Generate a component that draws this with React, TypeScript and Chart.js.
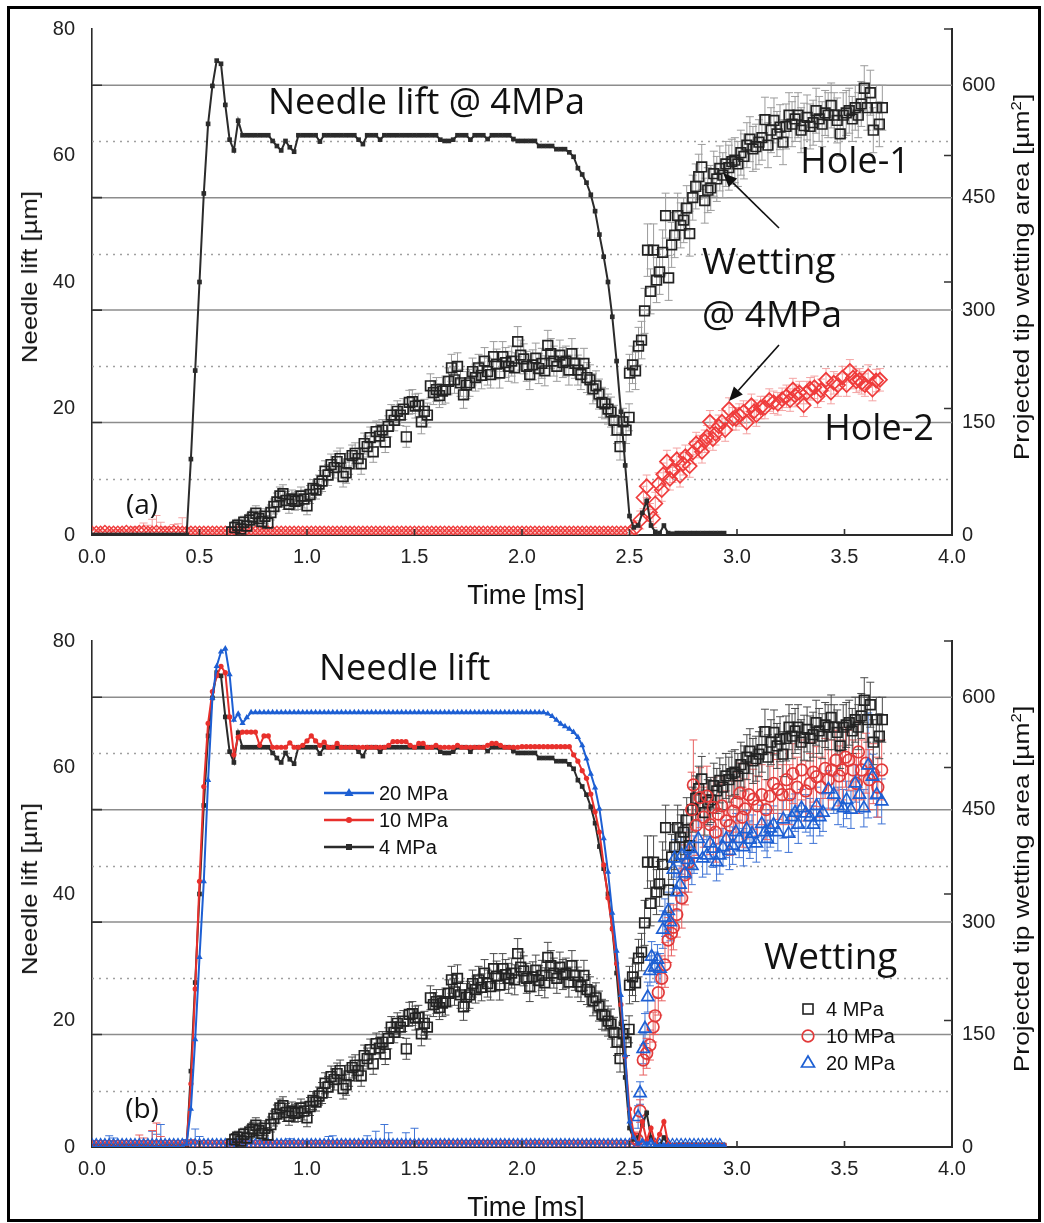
import React, { useEffect, useRef } from 'react';
import { Chart, registerables } from 'chart.js';

Chart.register(...registerables);

// ---------------- DATA ----------------
// Needle lift [µm], sampled every 0.02 ms starting at 0.00 ms (rows of 10 samples = 0.2 ms)
const NEEDLE_DT = 0.02;
const NEEDLE_4MPA = [
  0, 0, 0, 0, 0, 0, 0, 0, 0, 0,
  0, 0, 0, 0, 0, 0, 0, 0, 0, 0,
  0, 0, 0, 12, 26, 40, 54, 65, 71, 75,
  74.5, 68, 62.5, 60.8, 65.5, 63.2, 63.2, 63.2, 63.2, 63.2,
  63.2, 63.2, 62.3, 61.5, 60.8, 62.3, 61.3, 60.6, 63.2, 63.2,
  63.2, 63.2, 63.2, 62.2, 63.2, 63.2, 63.2, 63.2, 63.2, 63.2,
  63.2, 63.2, 62.5, 61.8, 63.2, 63.2, 63.2, 62.5, 63.2, 63.2,
  63.2, 63.2, 63.2, 63.2, 63.2, 63.2, 63.2, 63.2, 63.2, 63.2,
  63.2, 62.5, 62.3, 62.3, 62.5, 63.2, 63.2, 63.2, 62.5, 63.2,
  63.2, 63.2, 62.6, 63.2, 63.2, 63.2, 63.2, 63.2, 62.6, 62.3,
  62.3, 62.3, 62.3, 62.3, 61.5, 61.5, 61.5, 61.5, 61, 61,
  61, 60.5, 59.8, 58, 57, 55.7, 53.8, 51.2, 47.5, 44,
  40, 34.5, 27.5, 19.5, 11, 3, 1.2, 1.5, 3.5, 5.4,
  1.5, 0.5, 0.3, 1.5, 0.3, 0.2, 0.3, 0.3, 0.3, 0.3,
  0.3, 0.3, 0.3, 0.3, 0.3, 0.3, 0.3, 0.3,
];
const NEEDLE_10MPA = [
  0, 0, 0, 0, 0, 0, 0, 0, 0, 0,
  0, 0, 0, 0, 0, 0, 0, 0, 0, 0,
  0, 0, 0.5, 10, 25, 42, 57, 67, 72, 74.5,
  76, 75, 68, 62, 64.8, 65.6, 65.6, 65.6, 65.6, 63.5,
  65, 65, 63.2, 63.2, 63.2, 63.2, 63.9, 63.2, 63.2, 63.5,
  64.2, 65, 64.2, 63.5, 64, 63.2, 63.2, 63.8, 63.2, 63.2,
  63.2, 63.2, 63.2, 63.2, 63.2, 63.2, 63.2, 63.2, 63.2, 63.5,
  64.1, 64.1, 64.1, 64.1, 63.5, 63.2, 63.8, 63.8, 63.2, 63.2,
  63.5, 63.2, 63.2, 63.2, 63.2, 63.5, 63.2, 63.2, 63.2, 63.2,
  63.2, 63.2, 63.5, 63.8, 63.8, 63.5, 63.2, 63.2, 63.2, 63.2,
  63.3, 63.3, 63.3, 63.3, 63.3, 63.3, 63.3, 63.3, 63.3, 63.3,
  63.3, 63.3, 62, 61, 59.5, 58.3, 55.8, 53, 49.8, 44.6,
  39.4, 34.5, 29, 22.5, 14.3, 6, 2, 0.5, 4, 1,
  3, 0.5, 2, 4, 0.5, 0.3, 0.3, 0.3, 0.3, 0.3,
  0.3, 0.3, 0.3, 0.3, 0.3, 0.3, 0.3, 0.3,
];
const NEEDLE_20MPA = [
  0, 0, 0, 0, 0, 0, 0, 0, 0, 0,
  0, 0, 0, 0, 0, 0, 0, 0, 0, 0,
  0, 0, 0.5, 6, 17, 30, 42, 58, 71, 76,
  78.3, 78.8, 74.7, 67.5, 68.5, 67, 67.9, 68.7, 68.7, 68.7,
  68.7, 68.7, 68.7, 68.7, 68.7, 68.7, 68.7, 68.7, 68.7, 68.7,
  68.7, 68.7, 68.7, 68.7, 68.7, 68.7, 68.7, 68.7, 68.7, 68.7,
  68.7, 68.7, 68.7, 68.7, 68.7, 68.7, 68.7, 68.7, 68.7, 68.7,
  68.7, 68.7, 68.7, 68.7, 68.7, 68.7, 68.7, 68.7, 68.7, 68.7,
  68.7, 68.7, 68.7, 68.7, 68.7, 68.7, 68.7, 68.7, 68.7, 68.7,
  68.7, 68.7, 68.7, 68.7, 68.7, 68.7, 68.7, 68.7, 68.7, 68.7,
  68.7, 68.7, 68.7, 68.7, 68.7, 68.7, 68.5, 68.1, 67.5, 66.9,
  66.5, 66.1, 65.6, 64.8, 63.5, 61.4, 59, 56.8, 53.5, 48.8,
  43.5, 37, 31, 24, 14.5, 4, 1.5, 0.5, 1, 0.5,
  1, 0.3, 0.3, 0.3, 0.3, 0.3, 0.3, 0.3, 0.3, 0.3,
  0.3, 0.3, 0.3, 0.3, 0.3, 0.3, 0.3, 0.3,
];

// Wetting area [µm²]: [time ms, area, error]
const WET_4MPA_HOLE1: number[][] = [
  [0.650, 4, 6], [0.664, 10, 8], [0.678, 13, 8], [0.692, 8, 8], [0.706, 17, 8], [0.720, 12, 8],
  [0.734, 20, 9], [0.748, 24, 9], [0.762, 29, 10], [0.776, 22, 10], [0.790, 18, 10], [0.804, 25, 10],
  [0.818, 16, 10], [0.832, 30, 10], [0.846, 38, 10], [0.860, 44, 12], [0.874, 52, 12], [0.888, 55, 12],
  [0.902, 46, 12], [0.916, 41, 12], [0.930, 48, 12], [0.944, 45, 12], [0.958, 46, 12], [0.972, 52, 12],
  [0.986, 48, 12], [1.000, 39, 12], [1.014, 54, 12], [1.028, 62, 12], [1.042, 60, 12], [1.056, 68, 12],
  [1.070, 72, 14], [1.084, 85, 14], [1.098, 80, 14], [1.112, 94, 14], [1.126, 90, 14], [1.140, 98, 14],
  [1.154, 102, 14], [1.168, 78, 14], [1.182, 83, 14], [1.196, 95, 14], [1.210, 106, 14], [1.224, 109, 14],
  [1.238, 102, 14], [1.252, 95, 14], [1.266, 122, 14], [1.280, 118, 14], [1.294, 130, 14], [1.308, 111, 14],
  [1.322, 138, 14], [1.336, 132, 14], [1.350, 140, 14], [1.364, 124, 14], [1.378, 145, 14], [1.392, 160, 14],
  [1.406, 153, 14], [1.420, 165, 14], [1.434, 160, 14], [1.448, 168, 14], [1.462, 131, 14], [1.476, 177, 16],
  [1.490, 178, 16], [1.504, 172, 16], [1.518, 173, 16], [1.532, 151, 16], [1.546, 165, 16], [1.560, 160, 16],
  [1.574, 199, 16], [1.588, 190, 16], [1.602, 194, 16], [1.616, 186, 16], [1.630, 192, 18], [1.644, 194, 18],
  [1.658, 205, 18], [1.672, 223, 18], [1.686, 207, 18], [1.700, 225, 18], [1.714, 203, 18], [1.728, 187, 18],
  [1.742, 200, 18], [1.756, 203, 18], [1.770, 218, 18], [1.784, 210, 18], [1.798, 223, 18], [1.812, 213, 18],
  [1.826, 232, 18], [1.840, 218, 18], [1.854, 214, 18], [1.868, 238, 20], [1.882, 228, 20], [1.896, 216, 20],
  [1.910, 238, 20], [1.924, 230, 20], [1.938, 225, 20], [1.952, 232, 20], [1.966, 223, 20], [1.980, 258, 20],
  [1.994, 240, 20], [2.008, 235, 20], [2.022, 225, 20], [2.036, 214, 20], [2.050, 227, 20], [2.064, 236, 20],
  [2.078, 222, 20], [2.092, 229, 20], [2.106, 219, 20], [2.120, 253, 20], [2.134, 242, 20], [2.148, 232, 20],
  [2.162, 225, 20], [2.176, 240, 20], [2.190, 230, 20], [2.204, 232, 20], [2.218, 220, 20], [2.232, 242, 20],
  [2.246, 229, 20], [2.260, 220, 20], [2.274, 214, 20], [2.288, 229, 20], [2.302, 210, 20], [2.316, 207, 20],
  [2.330, 195, 20], [2.344, 199, 20], [2.358, 188, 20], [2.372, 177, 20], [2.386, 175, 20], [2.400, 168, 20],
  [2.414, 164, 20], [2.428, 153, 20], [2.442, 140, 18], [2.456, 118, 18], [2.470, 151, 18], [2.484, 140, 18],
  [2.498, 157, 18],
  [2.500, 216, 25], [2.514, 227, 25], [2.528, 219, 25], [2.542, 252, 25], [2.556, 260, 25], [2.570, 299, 30],
  [2.584, 380, 35], [2.598, 325, 30], [2.612, 380, 35], [2.626, 340, 30], [2.640, 351, 30], [2.654, 377, 30],
  [2.668, 426, 30], [2.682, 343, 30], [2.696, 387, 30], [2.710, 400, 30], [2.724, 426, 30], [2.738, 413, 30],
  [2.752, 420, 30], [2.766, 436, 30], [2.780, 402, 30], [2.794, 450, 30], [2.808, 465, 30], [2.822, 478, 30],
  [2.836, 491, 30], [2.850, 446, 30], [2.864, 460, 30], [2.878, 463, 30], [2.892, 482, 30], [2.906, 475, 30],
  [2.920, 489, 30], [2.934, 480, 30], [2.948, 495, 30], [2.962, 490, 30], [2.976, 498, 30], [2.990, 500, 30],
  [3.004, 495, 30], [3.018, 510, 30], [3.032, 505, 30], [3.046, 520, 30], [3.060, 528, 30], [3.074, 515, 30],
  [3.088, 518, 30], [3.102, 524, 30], [3.116, 530, 30], [3.130, 554, 30], [3.144, 520, 30], [3.158, 540, 30],
  [3.172, 553, 30], [3.186, 535, 30], [3.200, 544, 30], [3.214, 524, 30], [3.228, 545, 30], [3.242, 560, 30],
  [3.256, 548, 30], [3.270, 555, 30], [3.284, 560, 30], [3.298, 540, 30], [3.312, 546, 30], [3.326, 557, 30],
  [3.340, 545, 30], [3.354, 550, 30], [3.368, 566, 30], [3.382, 555, 30], [3.396, 548, 30], [3.410, 563, 30],
  [3.424, 560, 30], [3.438, 573, 30], [3.452, 560, 30], [3.466, 553, 30], [3.480, 535, 30], [3.494, 560, 30],
  [3.508, 563, 30], [3.522, 566, 30], [3.536, 555, 30], [3.550, 570, 30], [3.564, 560, 30], [3.578, 575, 30],
  [3.592, 596, 30], [3.606, 570, 30], [3.620, 590, 30], [3.634, 540, 30], [3.648, 570, 30], [3.662, 548, 30],
  [3.676, 570, 30],
];

const WET_4MPA_HOLE2: number[][] = [
  [2.525, 9, 10], [2.55, 20, 12], [2.565, 50, 15], [2.58, 65, 15], [2.595, 30, 12], [2.61, 22, 12],
  [2.62, 42, 15], [2.635, 68, 15], [2.65, 60, 15], [2.657, 81, 15], [2.674, 98, 15], [2.688, 75, 15],
  [2.70, 85, 15], [2.72, 101, 15], [2.735, 79, 15], [2.75, 95, 15], [2.76, 105, 15], [2.78, 92, 15],
  [2.795, 110, 15], [2.81, 122, 15], [2.825, 118, 15], [2.837, 111, 15], [2.85, 125, 15], [2.86, 131, 15],
  [2.874, 151, 15], [2.888, 128, 15], [2.90, 135, 15], [2.915, 145, 15], [2.93, 151, 15], [2.945, 140, 15],
  [2.963, 168, 15], [2.98, 155, 15], [2.995, 155, 15], [3.01, 160, 15], [3.03, 164, 15], [3.045, 150, 15],
  [3.067, 173, 15], [3.08, 165, 15], [3.09, 160, 15], [3.11, 170, 15], [3.13, 170, 15], [3.15, 180, 15],
  [3.17, 177, 15], [3.19, 175, 15], [3.21, 181, 15], [3.23, 185, 15], [3.247, 180, 15], [3.26, 194, 15],
  [3.27, 186, 15], [3.29, 190, 15], [3.31, 173, 15], [3.325, 190, 15], [3.34, 195, 15], [3.36, 197, 15],
  [3.375, 185, 15], [3.39, 193, 15], [3.414, 207, 15], [3.437, 190, 15], [3.45, 203, 15], [3.47, 200, 15],
  [3.49, 210, 15], [3.51, 200, 15], [3.525, 219, 15], [3.54, 210, 15], [3.555, 205, 15], [3.57, 207, 15],
  [3.58, 203, 15], [3.595, 200, 15], [3.61, 212, 15], [3.63, 194, 15], [3.647, 206, 15], [3.665, 207, 15],
];

const WET_10MPA: number[][] = [
  [2.535, 10, 10], [2.549, 48, 15], [2.564, 116, 20], [2.58, 125, 20], [2.595, 136, 20], [2.61, 160, 20],
  [2.619, 175, 25], [2.634, 206, 30], [2.65, 225, 30], [2.665, 243, 30], [2.68, 276, 30], [2.695, 285, 30],
  [2.704, 293, 30], [2.72, 310, 30], [2.743, 332, 40], [2.758, 363, 40], [2.774, 380, 40], [2.789, 450, 50],
  [2.797, 483, 60], [2.81, 429, 40], [2.828, 466, 40], [2.845, 440, 40], [2.86, 468, 40], [2.875, 430, 40],
  [2.89, 453, 40], [2.90, 420, 40], [2.913, 444, 40], [2.93, 455, 40], [2.95, 435, 40], [2.967, 429, 40],
  [2.983, 448, 40], [3.0, 460, 40], [3.014, 472, 40], [3.025, 440, 40], [3.037, 451, 40], [3.055, 470, 40],
  [3.076, 464, 40], [3.095, 455, 40], [3.115, 470, 40], [3.135, 450, 40], [3.153, 468, 40], [3.17, 485, 40],
  [3.19, 477, 40], [3.21, 470, 40], [3.23, 490, 40], [3.245, 470, 40], [3.26, 498, 40], [3.28, 480, 40],
  [3.30, 503, 40], [3.32, 475, 40], [3.34, 485, 40], [3.355, 500, 40], [3.37, 494, 40], [3.39, 480, 40],
  [3.41, 505, 40], [3.425, 490, 40], [3.44, 503, 40], [3.46, 516, 40], [3.475, 495, 40], [3.49, 503, 40],
  [3.505, 520, 40], [3.52, 516, 40], [3.54, 503, 40], [3.555, 485, 40], [3.565, 527, 40], [3.58, 503, 40],
  [3.60, 512, 40], [3.615, 490, 40], [3.634, 498, 40], [3.655, 480, 40], [3.673, 503, 40],
];

const WET_20MPA: number[][] = [
  [2.54, 40, 15], [2.549, 72, 15], [2.564, 131, 20], [2.572, 158, 20], [2.585, 200, 20], [2.595, 235, 20],
  [2.603, 254, 20], [2.618, 240, 20], [2.63, 250, 20], [2.642, 238, 20], [2.655, 290, 25], [2.665, 306, 25],
  [2.68, 315, 25], [2.69, 300, 25], [2.704, 370, 25], [2.71, 385, 25], [2.72, 340, 25], [2.735, 350, 25],
  [2.743, 389, 25], [2.757, 365, 25], [2.77, 383, 25], [2.78, 398, 25], [2.79, 375, 25], [2.80, 390, 25],
  [2.82, 411, 25], [2.84, 385, 25], [2.86, 389, 25], [2.875, 405, 25], [2.89, 398, 25], [2.905, 380, 25],
  [2.92, 389, 25], [2.935, 400, 25], [2.95, 411, 25], [2.965, 395, 25], [2.98, 402, 25], [2.995, 420, 25],
  [3.01, 411, 25], [3.03, 400, 25], [3.045, 424, 25], [3.06, 410, 25], [3.07, 418, 25], [3.09, 405, 25],
  [3.115, 431, 25], [3.13, 420, 25], [3.14, 411, 25], [3.155, 425, 25], [3.17, 430, 25], [3.19, 420, 25],
  [3.215, 437, 25], [3.24, 418, 25], [3.255, 440, 25], [3.27, 446, 25], [3.285, 430, 25], [3.30, 452, 25],
  [3.32, 445, 25], [3.34, 440, 25], [3.355, 430, 25], [3.37, 455, 25], [3.385, 440, 25], [3.40, 446, 25],
  [3.425, 477, 25], [3.45, 470, 25], [3.47, 455, 25], [3.495, 452, 25], [3.51, 463, 25], [3.53, 450, 25],
  [3.55, 485, 25], [3.57, 470, 25], [3.59, 452, 25], [3.61, 509, 70], [3.63, 494, 30], [3.65, 470, 30],
  [3.673, 461, 30],
];

// Near-zero wetting before the area appears, sampled every 0.02 ms from 0 ms
const BASE_DT = 0.02;
const HOLE2_BASE_W = [
  3, 3, 3, 4, 3, 3, 3, 3, 4, 3,
  3, 4, 4, 3, 3, 4, 3, 3, 3, 4,
  3, 3, 3, 3, 3, 3, 3, 3, 3, 3,
  3, 3, 3, 3, 3, 3, 3, 3, 3, 3,
  3, 3, 3, 3, 3, 3, 3, 3, 3, 3,
  3, 3, 3, 3, 3, 3, 3, 3, 3, 3,
  3, 3, 3, 3, 3, 3, 3, 3, 3, 3,
  3, 3, 3, 3, 3, 3, 3, 3, 3, 3,
  3, 3, 3, 3, 3, 3, 3, 3, 3, 3,
  3, 3, 3, 3, 3, 3, 3, 3, 3, 3,
  3, 3, 3, 3, 3, 3, 3, 3, 3, 3,
  3, 3, 3, 3, 3, 3, 3, 3, 3, 3,
  3, 3, 3, 3, 3, 3,
];
const HOLE2_BASE_E = [
  3, 3, 4, 3, 3, 3, 4, 3, 3, 3,
  8, 6, 12, 10, 18, 22, 14, 8, 6, 10,
  12, 20, 6, 3, 3, 3, 3, 3, 3, 3,
  3, 3, 3, 3, 3, 3, 3, 3, 3, 3,
  3, 3, 3, 3, 3, 3, 3, 3, 3, 3,
  3, 3, 3, 3, 3, 3, 3, 3, 3, 3,
  3, 3, 3, 3, 3, 3, 3, 3, 3, 3,
  3, 3, 3, 3, 3, 3, 3, 3, 3, 3,
  3, 3, 3, 3, 3, 3, 3, 3, 3, 3,
  3, 3, 3, 3, 3, 3, 3, 3, 3, 3,
  3, 3, 3, 3, 3, 3, 3, 3, 3, 3,
  3, 3, 3, 3, 3, 3, 3, 3, 3, 3,
  3, 3, 3, 3, 3, 3,
];
const W10_BASE_W = [
  2, 2, 2, 2, 2, 2, 2, 2, 2, 2,
  2, 2, 2, 2, 2, 2, 2, 2, 2, 2,
  2, 2, 2, 2, 2, 2, 2, 2, 2, 2,
  2, 2, 2, 2, 2, 2, 2, 2, 2, 2,
  2, 2, 2, 2, 2, 2, 2, 2, 2, 2,
  2, 2, 2, 2, 2, 2, 2, 2, 2, 2,
  2, 2, 2, 2, 2, 2, 2, 2, 2, 2,
  2, 2, 2, 2, 2, 2, 2, 2, 2, 2,
  2, 2, 2, 2, 2, 2, 2, 2, 2, 2,
  2, 2, 2, 2, 2, 2, 2, 2, 2, 2,
  2, 2, 2, 2, 2, 2, 2, 2, 2, 2,
  2, 2, 2, 2, 2, 2, 2, 2, 2, 2,
  2, 2, 2, 2, 2, 2, 2,
];
const W10_BASE_E = [
  2, 2, 3, 2, 2, 2, 3, 2, 2, 2,
  2, 14, 10, 2, 20, 30, 12, 2, 2, 3,
  2, 2, 3, 8, 2, 2, 2, 2, 2, 2,
  2, 2, 2, 2, 2, 2, 2, 2, 2, 2,
  2, 2, 2, 2, 2, 2, 2, 2, 2, 2,
  2, 2, 2, 2, 2, 2, 2, 2, 2, 2,
  2, 2, 2, 2, 2, 2, 2, 2, 2, 2,
  2, 2, 2, 2, 2, 2, 2, 2, 2, 2,
  2, 2, 2, 2, 2, 2, 2, 2, 2, 2,
  2, 2, 2, 2, 2, 2, 2, 2, 2, 2,
  2, 2, 2, 2, 2, 2, 2, 2, 2, 2,
  2, 2, 2, 2, 2, 2, 2, 2, 2, 2,
  2, 2, 2, 2, 2, 2, 2,
];
const W20_BASE_W = [
  2, 2, 2, 2, 2, 2, 2, 2, 2, 2,
  2, 2, 2, 2, 2, 2, 2, 2, 2, 2,
  2, 2, 2, 2, 2, 2, 2, 2, 2, 2,
  2, 2, 2, 2, 2, 2, 2, 2, 2, 2,
  2, 2, 2, 2, 2, 2, 2, 2, 2, 2,
  2, 2, 2, 2, 2, 2, 2, 2, 2, 2,
  2, 2, 2, 2, 2, 2, 2, 2, 2, 2,
  2, 2, 2, 2, 2, 2, 2, 2, 2, 2,
  2, 2, 2, 2, 2, 2, 2, 2, 2, 2,
  2, 2, 2, 2, 2, 2, 2, 2, 2, 2,
  2, 2, 2, 2, 2, 2, 2, 2, 2, 2,
  2, 2, 2, 2, 2, 2, 2, 2, 2, 2,
  2, 2, 2, 2, 2, 2, 2, 2, 2, 2,
  2, 2, 2, 2, 2, 2, 2, 2, 2, 2,
  2, 2, 2, 2, 2, 2, 2,
];
const W20_BASE_E = [
  2, 2, 3, 2, 13, 10, 3, 2, 2, 2,
  3, 2, 2, 3, 19, 15, 28, 4, 2, 3,
  3, 2, 8, 2, 22, 12, 3, 2, 2, 2,
  2, 2, 3, 2, 2, 2, 2, 3, 2, 2,
  2, 3, 2, 2, 2, 2, 9, 2, 2, 2,
  2, 2, 2, 3, 2, 12, 13, 2, 2, 2,
  2, 2, 3, 2, 13, 2, 19, 2, 28, 17,
  2, 2, 3, 17, 2, 23, 2, 2, 3, 2,
  2, 3, 2, 2, 2, 2, 3, 2, 2, 2,
  2, 2, 2, 3, 2, 2, 2, 2, 3, 2,
  2, 2, 3, 2, 2, 2, 2, 3, 2, 2,
  2, 2, 2, 2, 3, 2, 2, 2, 2, 3,
  2, 2, 2, 3, 2, 2, 2, 2, 2, 2,
  2, 2, 3, 2, 2, 2, 2, 2, 3, 2,
  2, 2, 2, 2, 2, 2, 2,
];

// Axis ticks
const X_MIN = 0, X_MAX = 4, X_STEP = 0.5;
const LEFT_MAX = 80, LEFT_STEP = 20;
const RIGHT_MAX = 675;
const RIGHT_TICKS = [0, 150, 300, 450, 600];
const RIGHT_MINOR = [75, 225, 375, 525];
const LEFT_TICK_MARKS = [20, 40, 60, 80];
const X_TICK_MARKS = [0.5, 1, 1.5, 2, 2.5, 3, 3.5];

// ---------------- STYLE ----------------
const TICK_FONT = "'Liberation Sans', Arial, sans-serif";
const NOTE_FONT = "'Open Sans', 'Noto Sans', sans-serif";
const C_BLACK = '#2b2b2b';
const C_RED = '#e8302c';
const C_BLUE = '#1d5fd3';

const seriesFromSamples = (vals: number[], dt: number) => vals.map((v, i) => ({ x: Math.round(i * dt * 1000) / 1000, y: v }));
const seriesFromTriples = (rows: number[][]) => rows.map((r) => ({ x: r[0], y: r[1] }));
const errsFromTriples = (rows: number[][]) => rows.map((r) => r[2]);

const gridPlugin = {
  id: 'customGrid',
  beforeDatasetsDraw(chart: any) {
    const { ctx, chartArea: a, scales } = chart;
    const yR = scales.yR;
    ctx.save();
    ctx.lineWidth = 1.3;
    ctx.strokeStyle = '#a0a0a0';
    ctx.setLineDash([2, 5]);
    RIGHT_MINOR.forEach((v) => {
      const y = Math.round(yR.getPixelForValue(v)) + 0.5;
      ctx.beginPath(); ctx.moveTo(a.left, y); ctx.lineTo(a.right, y); ctx.stroke();
    });
    ctx.setLineDash([]);
    ctx.strokeStyle = '#8c8c8c';
    ctx.lineWidth = 1.5;
    RIGHT_TICKS.slice(1).forEach((v) => {
      const y = yR.getPixelForValue(v);
      ctx.beginPath(); ctx.moveTo(a.left, y); ctx.lineTo(a.right, y); ctx.stroke();
    });
    ctx.restore();
  },
};

const errorBarPlugin = {
  id: 'errorBars',
  beforeDatasetsDraw(chart: any) {
    const { ctx, chartArea: a } = chart;
    const yR = chart.scales.yR;
    ctx.save();
    ctx.beginPath();
    ctx.rect(a.left, a.top - 10, a.right - a.left, a.bottom - a.top + 10);
    ctx.clip();
    chart.data.datasets.forEach((ds: any, di: number) => {
      if (!ds.errs) return;
      const meta = chart.getDatasetMeta(di);
      ctx.strokeStyle = ds.errColor;
      ctx.lineWidth = ds.errWidth || 1;
      const cap = ds.errCap || 4;
      ctx.beginPath();
      meta.data.forEach((pt: any, i: number) => {
        const d = ds.data[i];
        const e = ds.errs[i];
        if (!e) return;
        const x = pt.x;
        const y1 = yR.getPixelForValue(d.y + e);
        const y2 = yR.getPixelForValue(Math.max(0, d.y - e));
        ctx.moveTo(x, y1); ctx.lineTo(x, y2);
        ctx.moveTo(x - cap, y1); ctx.lineTo(x + cap, y1);
        ctx.moveTo(x - cap, y2); ctx.lineTo(x + cap, y2);
      });
      ctx.stroke();
    });
    ctx.restore();
  },
};

const tickMarkPlugin = {
  id: 'inwardTicks',
  afterDatasetsDraw(chart: any) {
    const { ctx, chartArea: a, scales } = chart;
    ctx.save();
    ctx.strokeStyle = '#333';
    ctx.lineWidth = 1.6;
    ctx.beginPath();
    RIGHT_TICKS.slice(1).forEach((v) => {
      const y = scales.yR.getPixelForValue(v);
      ctx.moveTo(a.left, y); ctx.lineTo(a.left + 10, y);
    });
    LEFT_TICK_MARKS.forEach((v) => {
      const y = scales.yL.getPixelForValue(v);
      ctx.moveTo(a.right, y); ctx.lineTo(a.right - 8, y);
    });
    X_TICK_MARKS.forEach((v) => {
      const x = scales.x.getPixelForValue(v);
      ctx.moveTo(x, a.bottom); ctx.lineTo(x, a.bottom - 6);
    });
    ctx.stroke();
    ctx.restore();
  },
};

function baseOptions(): any {
  const tickFont = { family: TICK_FONT, size: 20 };
  return {
    animation: false,
    responsive: false,
    maintainAspectRatio: false,
    layout: { padding: { top: 20, left: 0, right: 0, bottom: 0 } },
    plugins: { legend: { display: false }, tooltip: { enabled: false } },
    scales: {
      x: {
        type: 'linear', position: 'bottom', min: X_MIN, max: X_MAX,
        grid: { display: false, drawTicks: false },
        border: { display: true, color: '#2a2a2a', width: 2 },
        ticks: { stepSize: X_STEP, padding: 10, font: tickFont, color: '#222', maxRotation: 0, autoSkip: false,
          callback: (v: number) => Number(v).toFixed(1) },
        afterFit: (s: any) => { s.height = 76; },
      },
      yL: {
        type: 'linear', position: 'left', min: 0, max: LEFT_MAX,
        grid: { display: false, drawTicks: false },
        border: { display: true, color: '#2a2a2a', width: 1.6 },
        ticks: { stepSize: LEFT_STEP, padding: 17, font: tickFont, color: '#222' },
        afterFit: (s: any) => { s.width = 92; },
      },
      yR: {
        type: 'linear', position: 'right', min: 0, max: RIGHT_MAX,
        grid: { display: false, drawTicks: false },
        border: { display: true, color: '#2a2a2a', width: 2 },
        ticks: { padding: 10, font: tickFont, color: '#222' },
        afterBuildTicks: (s: any) => { s.ticks = RIGHT_TICKS.map((v) => ({ value: v })); },
        afterFit: (s: any) => { s.width = 92; },
      },
    },
  };
}

function needleDs(label: string, vals: number[], color: string, style: string, r: number) {
  return {
    label, data: seriesFromSamples(vals, NEEDLE_DT), yAxisID: 'yL', showLine: true,
    borderColor: color, borderWidth: 2, pointStyle: style, pointRadius: r, pointBackgroundColor: color,
    pointBorderColor: color, pointBorderWidth: 0, tension: 0, order: 0,
  };
}

function wetDs(label: string, rows: number[][], color: string, style: string, r: number, errColor: string, order: number) {
  return {
    label, data: seriesFromTriples(rows), yAxisID: 'yR', showLine: false,
    pointStyle: style, pointRadius: r, pointBorderColor: color, pointBackgroundColor: 'rgba(255,255,255,0)',
    pointBorderWidth: 1.7, errs: errsFromTriples(rows), errColor, errWidth: 1, errCap: 4, order,
  };
}

function baseDs(label: string, vals: number[], errs: number[], color: string, style: string, r: number, errColor: string, order: number) {
  return {
    label, data: seriesFromSamples(vals, BASE_DT), yAxisID: 'yR', showLine: false, clip: 0,
    pointStyle: style, pointRadius: r, pointBorderColor: color, pointBackgroundColor: 'rgba(255,255,255,0)',
    pointBorderWidth: 1.3, errs, errColor, errWidth: 1, errCap: 4, order,
  };
}

function datasetsA() {
  return [
    needleDs('Needle lift @ 4MPa', NEEDLE_4MPA, C_BLACK, 'rect', 3.3),
    wetDs('Hole-2', WET_4MPA_HOLE2, '#ef3b3b', 'rectRot', 7, '#f4a3a3', 1),
    wetDs('Hole-1', WET_4MPA_HOLE1, '#222', 'rect', 6.8, '#9c9c9c', 2),
    baseDs('Hole-2 base', HOLE2_BASE_W, HOLE2_BASE_E, '#ef3b3b', 'rectRot', 6.5, '#f4a3a3', 3),
  ];
}

function datasetsB() {
  return [
    needleDs('20 MPa', NEEDLE_20MPA, C_BLUE, 'triangle', 3.6),
    needleDs('10 MPa', NEEDLE_10MPA, C_RED, 'circle', 2.6),
    needleDs('4 MPa', NEEDLE_4MPA, C_BLACK, 'rect', 3.3),
    wetDs('W 20 MPa', WET_20MPA, '#1d5fd3', 'triangle', 7, '#3f74d6', 1),
    wetDs('W 10 MPa', WET_10MPA, '#e23a3a', 'circle', 5.8, '#e86060', 2),
    wetDs('W 4 MPa', WET_4MPA_HOLE1, '#222', 'rect', 6.8, '#4a4a4a', 3),
    baseDs('W 20 base', W20_BASE_W, W20_BASE_E, '#1d5fd3', 'triangle', 7, '#3f74d6', 4),
    baseDs('W 10 base', W10_BASE_W, W10_BASE_E, '#e23a3a', 'circle', 5, '#e86060', 5),
  ];
}

function Panel({ top, makeDatasets }: { top: number; makeDatasets: () => any[] }) {
  const ref = useRef<HTMLCanvasElement>(null);
  useEffect(() => {
    const chart = new Chart(ref.current as HTMLCanvasElement, {
      type: 'scatter',
      data: { datasets: makeDatasets() as any },
      options: baseOptions(),
      plugins: [gridPlugin, errorBarPlugin, tickMarkPlugin],
    } as any);
    return () => chart.destroy();
  }, []);
  return (
    <canvas ref={ref} width={1044} height={611}
      style={{ position: 'absolute', left: 0, top, width: 1044, height: 611 }} />
  );
}

// centered text (cx, cy) or left-anchored text (lx, cy)
function Txt({ x, lx, y, size, font, children, rotate, stretch }: any) {
  const anchorX = lx !== undefined ? '0' : '-50%';
  let tf = `translate(${anchorX}, -50%)`;
  if (rotate) tf += ' rotate(-90deg)';
  if (stretch) tf += ` scaleX(${stretch})`;
  return (
    <div style={{
      position: 'absolute', left: lx !== undefined ? lx : x, top: y, fontFamily: font, fontSize: size, lineHeight: 1,
      whiteSpace: 'nowrap', color: '#111', transform: tf,
    }}>{children}</div>
  );
}

function AxisTitles({ dy }: { dy: number }) {
  return (
    <>
      <Txt x={30} y={277 + dy} size={22} font={TICK_FONT} rotate stretch={1.17}>Needle lift [µm]</Txt>
      <Txt x={526} y={595 + dy} size={27} font={TICK_FONT}>Time [ms]</Txt>
      <Txt x={1021} y={277 + dy} size={22} font={TICK_FONT} rotate stretch={1.2}>
        Projected tip wetting area [µm<sup style={{ fontSize: 14 }}>2</sup>]
      </Txt>
    </>
  );
}

function Arrow({ x1, y1, x2, y2 }: any) {
  const ang = Math.atan2(y2 - y1, x2 - x1);
  const L = 14, W = 6;
  const bx = x2 - L * Math.cos(ang), by = y2 - L * Math.sin(ang);
  const px = -Math.sin(ang) * W, py = Math.cos(ang) * W;
  return (
    <g>
      <line x1={x1} y1={y1} x2={bx} y2={by} stroke="#111" strokeWidth={1.6} />
      <polygon points={`${x2},${y2} ${bx + px},${by + py} ${bx - px},${by - py}`} fill="#111" />
    </g>
  );
}

const LEG_L_ROWS = [793, 820, 847];
const LEG_R_ROWS = [1009, 1036, 1063];

export default function App() {
  const lg: any = { position: 'absolute', transform: 'translateY(-50%)', fontFamily: TICK_FONT, fontSize: 20, lineHeight: 1, whiteSpace: 'nowrap', color: '#111' };
  return (
    <div style={{ position: 'absolute', left: 0, top: 0, width: 1044, height: 1223, background: '#fff', overflow: 'hidden' }}>
      <Panel top={0} makeDatasets={datasetsA} />
      <Panel top={612} makeDatasets={datasetsB} />
      <AxisTitles dy={0} />
      <AxisTitles dy={612} />
      {/* panel (a) notes */}
      <Txt lx={268} y={101} size={36} font={NOTE_FONT}>Needle lift @ 4MPa</Txt>
      <Txt x={855} y={160} size={36} font={NOTE_FONT}>Hole-1</Txt>
      <Txt lx={702} y={259} size={37} font={NOTE_FONT}>Wetting</Txt>
      <Txt lx={702} y={312} size={37} font={NOTE_FONT}>@ 4MPa</Txt>
      <Txt x={879} y={427} size={36} font={NOTE_FONT}>Hole-2</Txt>
      <Txt x={142} y={503} size={28} font={NOTE_FONT}>(a)</Txt>
      {/* panel (b) notes */}
      <Txt lx={319} y={667} size={36} font={NOTE_FONT}>Needle lift</Txt>
      <Txt lx={764} y={954} size={37} font={NOTE_FONT}>Wetting</Txt>
      <Txt x={142} y={1107} size={28} font={NOTE_FONT}>(b)</Txt>
      {/* legend texts */}
      <div style={{ ...lg, left: 379, top: LEG_L_ROWS[0] }}>20 MPa</div>
      <div style={{ ...lg, left: 379, top: LEG_L_ROWS[1] }}>10 MPa</div>
      <div style={{ ...lg, left: 379, top: LEG_L_ROWS[2] }}>4 MPa</div>
      <div style={{ ...lg, left: 826, top: LEG_R_ROWS[0] }}>4 MPa</div>
      <div style={{ ...lg, left: 826, top: LEG_R_ROWS[1] }}>10 MPa</div>
      <div style={{ ...lg, left: 826, top: LEG_R_ROWS[2] }}>20 MPa</div>
      <svg width={1044} height={1223} style={{ position: 'absolute', left: 0, top: 0, pointerEvents: 'none' }}>
        <Arrow x1={779} y1={228} x2={723} y2={173} />
        <Arrow x1={779} y1={345} x2={729} y2={401} />
        {/* legend symbols (b, needle lift) */}
        <line x1={324} y1={LEG_L_ROWS[0]} x2={374} y2={LEG_L_ROWS[0]} stroke={C_BLUE} strokeWidth={2.5} />
        <polygon points={`349,${LEG_L_ROWS[0] - 5} 353.5,${LEG_L_ROWS[0] + 3} 344.5,${LEG_L_ROWS[0] + 3}`} fill={C_BLUE} />
        <line x1={324} y1={LEG_L_ROWS[1]} x2={374} y2={LEG_L_ROWS[1]} stroke={C_RED} strokeWidth={2.5} />
        <circle cx={349} cy={LEG_L_ROWS[1]} r={3} fill={C_RED} />
        <line x1={324} y1={LEG_L_ROWS[2]} x2={374} y2={LEG_L_ROWS[2]} stroke={C_BLACK} strokeWidth={2.5} />
        <rect x={346} y={LEG_L_ROWS[2] - 3} width={6} height={6} fill={C_BLACK} />
        {/* legend symbols (b, wetting) */}
        <rect x={803} y={LEG_R_ROWS[0] - 5} width={10} height={10} fill="none" stroke="#222" strokeWidth={1.6} />
        <circle cx={808} cy={LEG_R_ROWS[1]} r={5.8} fill="none" stroke="#e23a3a" strokeWidth={1.7} />
        <polygon points={`808,${LEG_R_ROWS[2] - 7} 814.5,${LEG_R_ROWS[2] + 4} 801.5,${LEG_R_ROWS[2] + 4}`} fill="none" stroke="#1d5fd3" strokeWidth={1.7} />
      </svg>
      <div style={{ position: 'absolute', left: 7, top: 6, width: 1034, height: 1216, border: '3px solid #000', boxSizing: 'border-box', pointerEvents: 'none' }} />
    </div>
  );
}
